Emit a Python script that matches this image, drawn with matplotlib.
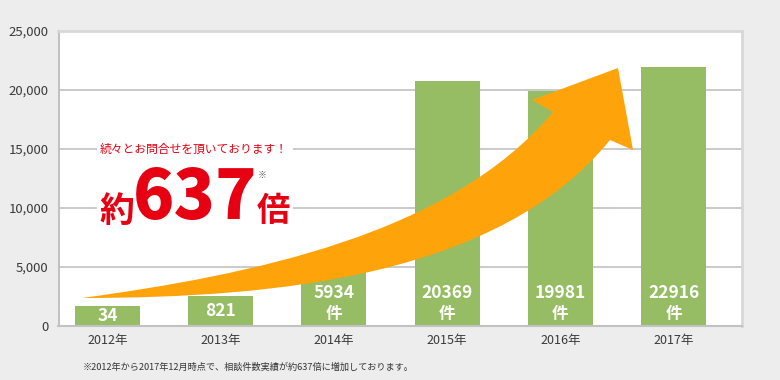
import matplotlib
matplotlib.use("Agg")
from matplotlib import pyplot as plt
from matplotlib.path import Path
from matplotlib.patches import PathPatch, Rectangle
from matplotlib.transforms import Affine2D

# bar data
years = ["2012", "2013", "2014", "2015", "2016", "2017"]
bar_heights = [1690, 2540, 5930, 20760, 19940, 21920]
counts = ["34", "821", "5934", "20369", "19981", "22916"]
y_ticks = [0, 5000, 10000, 15000, 20000, 25000]

tagline = "続々とお問合せを頂いております！"
footnote = "※2012年から2017年12月時点で、相談件数実績が約637倍に増加しております。"

GREEN = "#96bd63"
ORANGE = "#fea40a"
RED = "#e60012"
BG = "#ededed"

plt.rcParams['font.family'] = ['Noto Sans CJK JP', 'DejaVu Sans']

fig = plt.figure(figsize=(7.8, 3.8), dpi=100, facecolor=BG)
ax = fig.add_axes([58.5 / 780, 54 / 380, 683.2 / 780, 295 / 380])
ax.set_facecolor("white")

# pixel coordinates (origin top-left) -> figure
px = Affine2D().scale(1 / 780, -1 / 380).translate(0, 1) + fig.transFigure

x = list(range(len(years)))
ax.bar(x, bar_heights, width=0.574, color=GREEN, zorder=2)

ax.set_xlim(-0.433, 5.602)
ax.set_ylim(0, 25000)
ax.set_yticks(y_ticks)
ax.set_yticklabels([f"{v:,}" for v in y_ticks], fontsize=9.5, color="#3a3a3a")
ax.set_xticks(x)
ax.set_xticklabels([y + "年" for y in years], fontsize=9, color="#3a3a3a")
ax.tick_params(axis="both", length=0)
ax.tick_params(axis="y", pad=7)
ax.tick_params(axis="x", pad=6)
ax.set_axisbelow(True)
ax.grid(axis="y", color="#c6c6c6", linewidth=1.3)
for side in ["left", "bottom"]:
    ax.spines[side].set_color("#c2c2c2")
    ax.spines[side].set_linewidth(1.5)
for side in ["top", "right"]:
    ax.spines[side].set_color("#d8d8d8")
    ax.spines[side].set_linewidth(2)

# count labels inside the bars
for i, (h, c) in enumerate(zip(bar_heights, counts)):
    if int(c) < 1000:
        ax.text(i, h / 2, c, ha="center", va="center", color="white",
                fontsize=12.5, fontweight="bold", zorder=5)
    else:
        ax.annotate(c, (i, 0), xytext=(0, 24), textcoords="offset points",
                    ha="center", va="center", color="white",
                    fontsize=12.5, fontweight="bold", zorder=5)
        ax.annotate("件", (i, 0), xytext=(0, 9), textcoords="offset points",
                    ha="center", va="center", color="white",
                    fontsize=12, fontweight="bold", zorder=5)

# white patch behind the headline text
ax.add_patch(Rectangle((97, 143), 196, 90, transform=px, facecolor="white",
                       edgecolor="none", zorder=1))

# curved orange arrow
verts = [(82, 298), (250, 275), (450, 235), (553, 112),
         (532, 100), (618, 68), (633, 150), (610, 140),
         (500, 275), (280, 298), (82, 298), (82, 298)]
codes = [Path.MOVETO, Path.CURVE4, Path.CURVE4, Path.CURVE4,
         Path.LINETO, Path.LINETO, Path.LINETO, Path.LINETO,
         Path.CURVE4, Path.CURVE4, Path.CURVE4, Path.CLOSEPOLY]
arrow = PathPatch(Path(verts, codes), facecolor=ORANGE, edgecolor="none",
                  transform=px, zorder=3, clip_on=False)
ax.add_patch(arrow)

# headline
fig.text(100 / 780, 1 - 149 / 380, tagline, color=RED, fontsize=8.5,
         ha="left", va="center")
fig.text(116.5 / 780, 1 - 212 / 380, "約", color=RED, fontsize=25,
         fontweight="bold", ha="center", va="center")
fig.text(195 / 780, 1 - 199 / 380, "637", color=RED, fontsize=49,
         fontweight="heavy", ha="center", va="center")
fig.text(273 / 780, 1 - 212 / 380, "倍", color=RED, fontsize=24,
         fontweight="bold", ha="center", va="center")
fig.text(262 / 780, 1 - 175 / 380, "※", color="#555555", fontsize=6.5,
         ha="center", va="center")

fig.text(83 / 780, 1 - 367 / 380, footnote, color="#333333", fontsize=6.6,
         ha="left", va="center")

fig.savefig("out.png", dpi=100, facecolor=BG)
